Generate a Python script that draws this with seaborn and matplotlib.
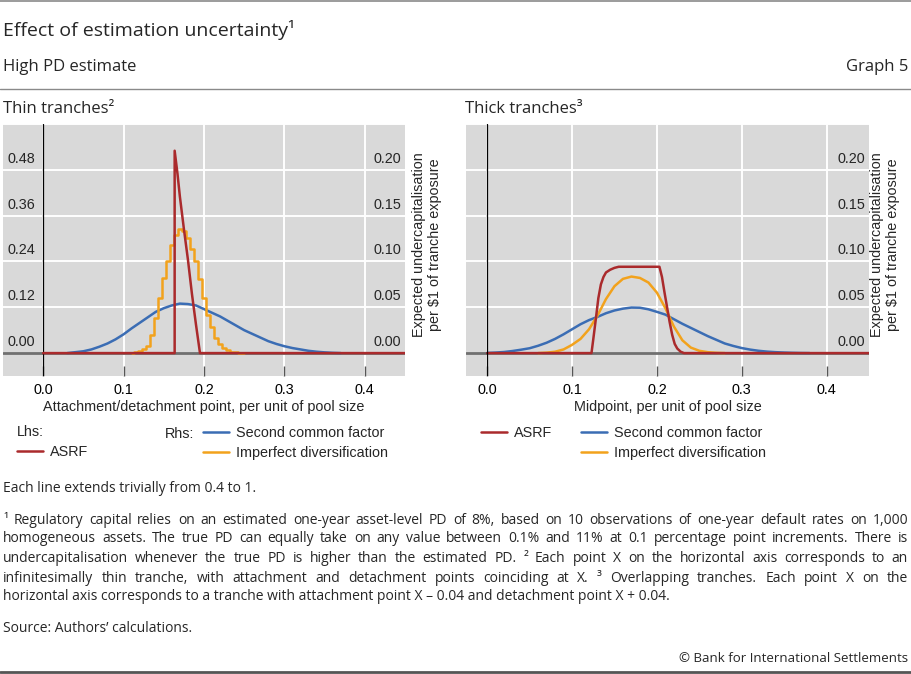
import numpy as np
import pandas as pd
import matplotlib
matplotlib.use("Agg")
import matplotlib.pyplot as plt
from matplotlib.lines import Line2D
from matplotlib.transforms import blended_transform_factory, offset_copy
import seaborn as sns

# ---- data ----
# thin tranches, ASRF on lhs scale
thin_asrf_x = [0.0, 0.1635, 0.1635, 0.167, 0.170, 0.175, 0.180, 0.185, 0.190, 0.195, 1.0]
thin_asrf_y = [0.0, 0.0, 0.53, 0.47, 0.41, 0.325, 0.245, 0.155, 0.075, 0.0, 0.0]

# thin tranches, second common factor (rhs)
thin_scf_x = [0.03, 0.04, 0.05, 0.06, 0.07, 0.08, 0.09, 0.10, 0.11, 0.12, 0.13, 0.14,
              0.15, 0.16, 0.17, 0.18, 0.19, 0.20, 0.21, 0.22, 0.23, 0.24, 0.25, 0.26,
              0.27, 0.28, 0.29, 0.30, 0.31, 0.32, 0.33, 0.34, 0.35, 0.36, 0.37]
thin_scf_y = [0.000, 0.001, 0.002, 0.004, 0.007, 0.0105, 0.015, 0.0205, 0.027, 0.033,
              0.039, 0.045, 0.049, 0.052, 0.054, 0.0535, 0.052, 0.048, 0.044, 0.040,
              0.035, 0.030, 0.025, 0.021, 0.017, 0.013, 0.010, 0.0075, 0.0055, 0.004,
              0.0025, 0.0015, 0.0008, 0.0003, 0.0]

# thin tranches, imperfect diversification (rhs, stepped)
thin_imp_x = [0.110, 0.115, 0.120, 0.125, 0.130, 0.135, 0.140, 0.145, 0.150, 0.155,
              0.160, 0.165, 0.170, 0.175, 0.180, 0.185, 0.190, 0.195, 0.200, 0.205,
              0.210, 0.215, 0.220, 0.225, 0.230, 0.235, 0.240, 0.245, 0.250]
thin_imp_y = [0.0005, 0.001, 0.002, 0.004, 0.008, 0.020, 0.038, 0.060, 0.082, 0.100,
              0.118, 0.129, 0.1355, 0.1335, 0.126, 0.114, 0.100, 0.081, 0.060, 0.042,
              0.028, 0.017, 0.010, 0.006, 0.003, 0.0015, 0.0007, 0.0003, 0.0]

# thick tranches (all rhs)
thick_asrf_x = [0.0, 0.1229, 0.125, 0.128, 0.131, 0.134, 0.137, 0.140, 0.145, 0.150, 0.155,
                0.203, 0.206, 0.209, 0.212, 0.215, 0.218, 0.221, 0.224, 0.228, 0.232, 1.0]
thick_asrf_y = [0.0, 0.0, 0.015, 0.037, 0.060, 0.075, 0.083, 0.088, 0.091, 0.093, 0.0942,
                0.0942, 0.083, 0.066, 0.050, 0.034, 0.020, 0.010, 0.005, 0.0015, 0.0, 0.0]

thick_scf_x = [0.00, 0.01, 0.02, 0.03, 0.04, 0.05, 0.06, 0.07, 0.08, 0.09, 0.10, 0.11,
               0.12, 0.13, 0.14, 0.15, 0.16, 0.17, 0.18, 0.19, 0.20, 0.21, 0.22, 0.23,
               0.24, 0.25, 0.26, 0.27, 0.28, 0.29, 0.30, 0.31, 0.32, 0.33, 0.34, 0.35,
               0.36, 0.37, 0.38]
thick_scf_y = [0.0002, 0.0006, 0.0012, 0.0023, 0.0037, 0.0053, 0.0080, 0.0113, 0.0155,
               0.0205, 0.026, 0.0315, 0.036, 0.0395, 0.0435, 0.0465, 0.0485, 0.0497,
               0.0495, 0.0478, 0.045, 0.042, 0.037, 0.032, 0.0275, 0.023, 0.0185,
               0.0145, 0.0105, 0.0078, 0.0055, 0.0038, 0.0025, 0.0016, 0.0010, 0.0006,
               0.0003, 0.0001, 0.0]

thick_imp_x = [0.06, 0.07, 0.08, 0.09, 0.10, 0.11, 0.12, 0.13, 0.14, 0.15, 0.16, 0.17,
               0.18, 0.19, 0.20, 0.21, 0.22, 0.23, 0.24, 0.25, 0.26, 0.27, 0.28]
thick_imp_y = [0.0, 0.0005, 0.0015, 0.004, 0.009, 0.0155, 0.026, 0.041, 0.059, 0.073,
               0.081, 0.0835, 0.082, 0.077, 0.066, 0.049, 0.029, 0.014, 0.006, 0.0025,
               0.001, 0.0003, 0.0]

x_ticks = [0.0, 0.1, 0.2, 0.3, 0.4]
x_ticklabels = ["0.0", "0.1", "0.2", "0.3", "0.4"]
lhs_ticks = [0.00, 0.12, 0.24, 0.36, 0.48]
lhs_labels = ["0.00", "0.12", "0.24", "0.36", "0.48"]
rhs_ticks = [0.00, 0.05, 0.10, 0.15, 0.20]
rhs_labels = ["0.00", "0.05", "0.10", "0.15", "0.20"]

RED = "#aa2a2c"
BLUE = "#3b6db4"
ORANGE = "#f2a21c"
BG = "#d9d9d9"

sns.set_theme(style="darkgrid", rc={"axes.facecolor": BG, "grid.color": "white",
                                    "grid.linewidth": 1.4})
plt.rcParams["font.family"] = ["Liberation Sans", "DejaVu Sans"]
HEAD = ["Open Sans", "DejaVu Sans"]
TS = 10.4  # chart text size

W, H = 911, 674
fig = plt.figure(figsize=(W / 100, H / 100), dpi=100)


def fx(px):
    return px / W


def fy(py):
    return 1 - py / H


def style_axes(ax, xmin):
    ax.set_xlim(xmin, 0.45)
    ax.set_ylim(-0.025, 0.25)
    ax.set_xticks(x_ticks)
    ax.set_xticklabels(x_ticklabels, fontsize=TS, color="black")
    ax.set_yticks([0.05, 0.10, 0.15, 0.20, 0.25])
    ax.set_yticklabels([])
    ax.tick_params(axis="x", direction="in", length=7, width=1, color="#555555",
                   pad=5, bottom=True)
    ax.tick_params(axis="y", length=0)
    ax.grid(True, color="white", lw=1.4)
    for s in ax.spines.values():
        s.set_visible(False)
    ax.axhline(0, color="#707070", lw=2, zorder=1.5)
    ax.axvline(0, color="black", lw=0.9, zorder=4)
    ax.set_ylabel("")


def ylabels(ax, ticks, labels, side):
    tr = offset_copy(blended_transform_factory(ax.transAxes, ax.transData),
                     fig=fig, x=0, y=4, units="dots")
    for t, lab in zip(ticks, labels):
        if side == "left":
            ax.text(0.01, t, lab, transform=tr, ha="left", va="bottom", fontsize=TS,
                    zorder=5)
        else:
            ax.text(0.99, t, lab, transform=tr, ha="right", va="bottom", fontsize=TS,
                    zorder=5)


# ---- left panel: thin tranches ----
axL = fig.add_axes([fx(3), fy(376), fx(402), 252 / H])
sns.lineplot(x=thin_scf_x, y=thin_scf_y, ax=axL, color=BLUE, lw=1.8,
             estimator=None, sort=False, zorder=3)
sns.lineplot(x=thin_imp_x, y=thin_imp_y, ax=axL, color=ORANGE, lw=1.8,
             estimator=None, sort=False, drawstyle="steps-mid", zorder=3)
style_axes(axL, -0.05)
axL.set_xlabel("Attachment/detachment point, per unit of pool size", fontsize=TS,
               labelpad=2)
blue_h = axL.lines[0]
orange_h = axL.lines[1]

axL2 = axL.twinx()
sns.lineplot(x=thin_asrf_x, y=thin_asrf_y, ax=axL2, color=RED, lw=1.8,
             estimator=None, sort=False, zorder=3)
axL2.set_ylim(-0.06, 0.60)
axL2.set_yticks([])
axL2.set_ylabel("")
axL2.grid(False)
for s in axL2.spines.values():
    s.set_visible(False)
red_h = axL2.lines[0]

ylabels(axL, rhs_ticks, rhs_labels, "right")
ylabels(axL2, lhs_ticks, lhs_labels, "left")

# ---- right panel: thick tranches ----
axR = fig.add_axes([fx(466), fy(376), fx(403), 252 / H])
sns.lineplot(x=thick_scf_x, y=thick_scf_y, ax=axR, color=BLUE, lw=1.8,
             estimator=None, sort=False, zorder=3)
sns.lineplot(x=thick_imp_x, y=thick_imp_y, ax=axR, color=ORANGE, lw=1.8,
             estimator=None, sort=False, zorder=3)
sns.lineplot(x=thick_asrf_x, y=thick_asrf_y, ax=axR, color=RED, lw=1.8,
             estimator=None, sort=False, zorder=3.5)
style_axes(axR, -0.025)
axR.set_xlabel("Midpoint, per unit of pool size", fontsize=TS, labelpad=2)
ylabels(axR, rhs_ticks, rhs_labels, "right")

# right-hand axis titles
ylab = "Expected undercapitalisation\nper \\$1 of tranche exposure"
fig.text(fx(427), fy(245), ylab, rotation=90, ha="center", va="center",
         fontsize=TS, linespacing=1.1)
fig.text(fx(885), fy(245), ylab, rotation=90, ha="center", va="center",
         fontsize=TS, linespacing=1.1)

# ---- legends ----
blank = Line2D([], [], alpha=0)
leg_kw = dict(loc="upper left", frameon=False, fontsize=TS, handlelength=1.8,
              handletextpad=0.5, borderpad=0, borderaxespad=0, labelspacing=0.42)
fig.legend([red_h], ["ASRF"], title="Lhs:", alignment="left", title_fontsize=TS,
           bbox_to_anchor=(fx(17), fy(425)), **leg_kw)
fig.text(fx(165), fy(434), "Rhs:", ha="left", va="center", fontsize=TS)
fig.legend([blue_h, orange_h], ["Second common factor", "Imperfect diversification"],
           bbox_to_anchor=(fx(203), fy(426)), **leg_kw)
fig.legend([axR.lines[2], blank, axR.lines[0], axR.lines[1]],
           ["ASRF", "", "Second common factor", "Imperfect diversification"],
           ncol=2, columnspacing=1.95, bbox_to_anchor=(fx(481), fy(426)), **leg_kw)

# ---- header ----
fig.add_artist(Line2D([0, 1], [fy(1), fy(1)], color="#8a8a8a", lw=1.2))
fig.text(fx(3), fy(30), "Effect of estimation uncertainty\u00b9", ha="left", va="center",
         fontsize=14, family=HEAD)
fig.text(fx(3), fy(67), "High PD estimate", ha="left", va="center", fontsize=12,
         family=HEAD)
fig.text(fx(908), fy(67), "Graph 5", ha="right", va="center", fontsize=12, family=HEAD)
fig.add_artist(Line2D([0, 1], [fy(89), fy(89)], color="#8a8a8a", lw=1.0))
fig.text(fx(3), fy(109), "Thin tranches\u00b2", ha="left", va="center", fontsize=12,
         family=HEAD)
fig.text(fx(465), fy(109), "Thick tranches\u00b3", ha="left", va="center", fontsize=12,
         family=HEAD)

# ---- footnotes ----
FS = 10
fig.text(fx(3), fy(488), "Each line extends trivially from 0.4 to 1.", ha="left",
         va="center", fontsize=FS, family=HEAD)

notes = [
    "\u00b9 Regulatory capital relies on an estimated one-year asset-level PD of 8%, based on 10 observations of one-year default rates on 1,000",
    "homogeneous assets. The true PD can equally take on any value between 0.1% and 11% at 0.1 percentage point increments. There is",
    "undercapitalisation whenever the true PD is higher than the estimated PD.  \u00b2 Each point X on the horizontal axis corresponds to an",
    "infinitesimally thin tranche, with attachment and detachment points coinciding at X.  \u00b3 Overlapping tranches. Each point X on the",
]
last_note = "horizontal axis corresponds to a tranche with attachment point X \u2013 0.04 and detachment point X + 0.04."
note_y = [520, 539, 558, 578]

renderer = fig.canvas.get_renderer()
for line, py in zip(notes, note_y):
    words = line.split()
    texts = [fig.text(0, fy(py), w, ha="left", va="center", fontsize=FS, family=HEAD)
             for w in words]
    widths = [t.get_window_extent(renderer).width for t in texts]
    gap = max((905 - sum(widths)) / (len(words) - 1), 2.5)
    x = 3
    for t, w in zip(texts, widths):
        t.set_x(fx(x))
        x += w + gap
fig.text(fx(3), fy(597), last_note, ha="left", va="center", fontsize=FS, family=HEAD)
fig.text(fx(3), fy(628), "Source: Authors\u2019 calculations.", ha="left", va="center",
         fontsize=FS, family=HEAD)
fig.text(fx(908), fy(659), "\u00a9 Bank for International Settlements", ha="right",
         va="center", fontsize=FS * 0.95, family=HEAD)
fig.add_artist(Line2D([0, 1], [fy(672), fy(672)], color="#555555", lw=2))

fig.savefig("out.png", dpi=100)
